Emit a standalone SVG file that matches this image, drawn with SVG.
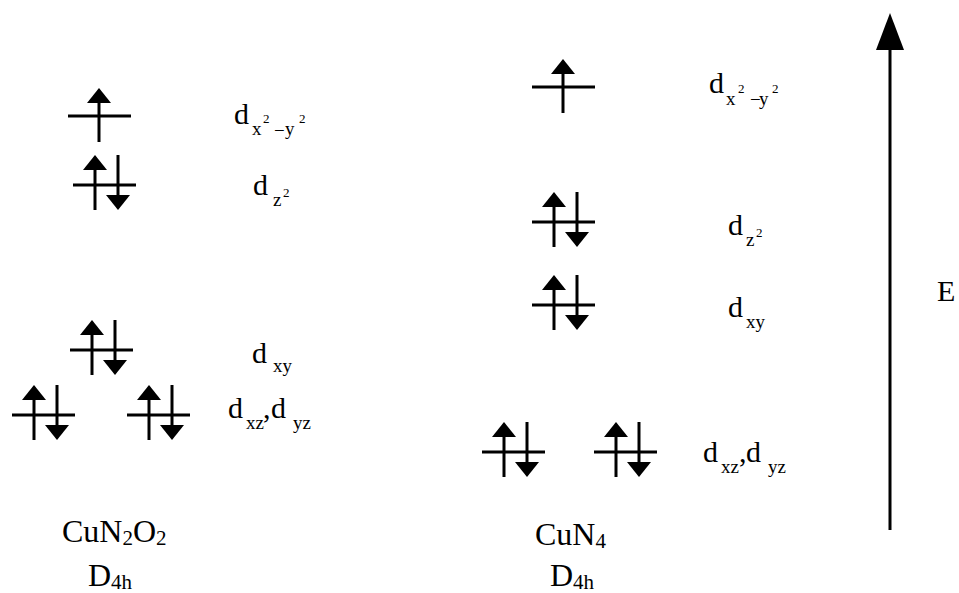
<svg xmlns="http://www.w3.org/2000/svg" xmlns:xlink="http://www.w3.org/1999/xlink" width="959" height="593" viewBox="0 0 959 593">
<style>
.ln{stroke:#000;stroke-width:3;fill:none}
.ah{fill:#000;stroke:none}
.d,.sb,.sp,.f,.fs{font-family:"Liberation Serif","Times New Roman",serif;fill:#000}
.d{font-size:30px}
.sb{font-size:19px}
.sp{font-size:13px}
.f{font-size:32px}
.fs{font-size:21px}
</style>
<defs>
<g id="pair">
<line class="ln" x1="0" y1="0" x2="63" y2="0"/>
<line class="ln" x1="22" y1="-17" x2="22" y2="25"/>
<polygon class="ah" points="22,-30 10,-15 34,-15"/>
<line class="ln" x1="45" y1="-30" x2="45" y2="12"/>
<polygon class="ah" points="45,25 33,10 57,10"/>
</g>
<g id="single">
<line class="ln" x1="0" y1="0" x2="63" y2="0"/>
<line class="ln" x1="31" y1="-15" x2="31" y2="26"/>
<polygon class="ah" points="31,-28 19,-13 43,-13"/>
</g>
</defs>

<g id="L-dx2y2-level"><use xlink:href="#single" x="68" y="116"/></g>
<g id="L-dz2-level"><use xlink:href="#pair" x="73" y="185"/></g>
<g id="L-dxy-level"><use xlink:href="#pair" x="70" y="350"/></g>
<g id="L-dxz-level"><use xlink:href="#pair" x="12" y="415"/></g>
<g id="L-dyz-level"><use xlink:href="#pair" x="127" y="415"/></g>

<g id="R-dx2y2-level"><use xlink:href="#single" x="532" y="87"/></g>
<g id="R-dz2-level"><use xlink:href="#pair" x="532" y="222"/></g>
<g id="R-dxy-level"><use xlink:href="#pair" x="532" y="305"/></g>
<g id="R-dxz-level"><use xlink:href="#pair" x="482" y="452"/></g>
<g id="R-dyz-level"><use xlink:href="#pair" x="594" y="452"/></g>

<g id="L-labels">
<text class="d" x="234" y="124">d</text>
<text class="sb" x="252" y="135">x</text>
<text class="sp" x="263" y="123">2</text>
<text class="sb" x="274" y="137">−</text>
<text class="sb" x="285" y="135">y</text>
<text class="sp" x="299" y="123">2</text>

<text class="d" x="253" y="195">d</text>
<text class="sb" x="273" y="206">z</text>
<text class="sp" x="283" y="197">2</text>

<text class="d" x="252" y="363">d</text>
<text class="sb" x="273" y="372">xy</text>

<text class="d" x="228" y="418">d</text>
<text class="sb" x="246" y="429">xz</text>
<text class="d" x="263" y="418">,</text>
<text class="d" x="271" y="418">d</text>
<text class="sb" x="293" y="429">yz</text>
</g>

<g id="R-labels">
<text class="d" x="709" y="93">d</text>
<text class="sb" x="726" y="105">x</text>
<text class="sp" x="738" y="93">2</text>
<text class="sb" x="750" y="106">−</text>
<text class="sb" x="759" y="105">y</text>
<text class="sp" x="772" y="93">2</text>

<text class="d" x="728" y="235">d</text>
<text class="sb" x="746" y="246">z</text>
<text class="sp" x="756" y="237">2</text>

<text class="d" x="728" y="317">d</text>
<text class="sb" x="746" y="328">xy</text>

<text class="d" x="703" y="462">d</text>
<text class="sb" x="721" y="473">xz</text>
<text class="d" x="739" y="462">,</text>
<text class="d" x="746" y="462">d</text>
<text class="sb" x="768" y="473">yz</text>
</g>

<g id="L-formula">
<text class="f" x="62" y="542">CuN<tspan class="fs" dy="3">2</tspan><tspan dy="-3">O</tspan><tspan class="fs" dy="3">2</tspan></text>
<text class="f" x="88" y="586">D<tspan class="fs" dy="3">4h</tspan></text>
</g>
<g id="R-formula">
<text class="f" x="535" y="545">CuN<tspan class="fs" dy="3">4</tspan></text>
<text class="f" x="550" y="586">D<tspan class="fs" dy="3">4h</tspan></text>
</g>

<g id="connectors">
<line class="ln" x1="890" y1="530" x2="890" y2="45"/>
<polygon class="ah" points="890,13 876,50 904,50"/>
</g>
<g id="E-label"><text class="d" x="937" y="301">E</text></g>
</svg>
